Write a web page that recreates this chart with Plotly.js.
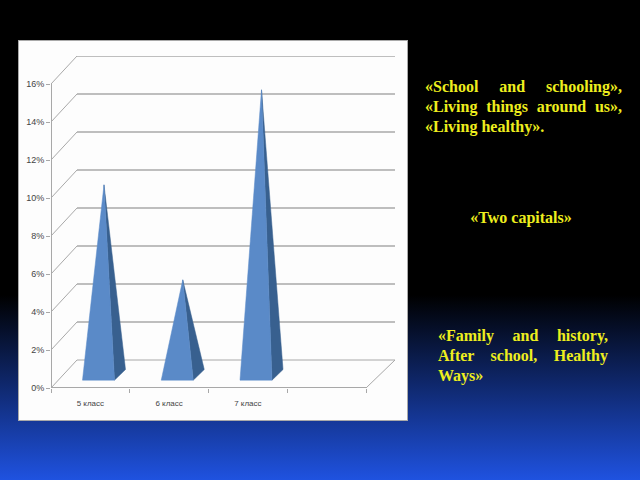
<!DOCTYPE html>
<html>
<head>
<meta charset="utf-8">
<script src="https://cdn.plot.ly/plotly-3.0.1.min.js"></script>
<style>
html,body{margin:0;padding:0;width:640px;height:480px;overflow:hidden;}
body{position:relative;background:linear-gradient(to bottom,#000 0,#000 295px,#1f52e0 480px);}
#panel{position:absolute;left:18px;top:40px;width:388px;height:379px;background:#fdfdfd;border:1px solid #a9a9a9;}
#chart{position:absolute;left:0;top:0;width:640px;height:480px;}
.note{position:absolute;color:#eeee1e;font:bold 16px/20px "Liberation Serif",serif;text-align:justify;}
</style>
</head>
<body>
<div id="panel"></div>
<div id="chart"></div>
<div class="note" style="left:425px;top:77px;width:197px;" id="n1"></div>
<div class="note" style="left:425px;top:208px;width:192px;text-align:center;" id="n2"></div>
<div class="note" style="left:438px;top:326px;width:170px;" id="n3"></div>
<script>
var categories = ["5 класс", "6 класс", "7 класс", ""];
var values = [10, 5, 15];
var yTickValues = [0, 2, 4, 6, 8, 10, 12, 14, 16];
var yTickLabels = ["0%", "2%", "4%", "6%", "8%", "10%", "12%", "14%", "16%"];
var note1 = "«School and schooling», «Living things around us», «Living healthy».";
var note2 = "«Two capitals»";
var note3 = "«Family and history, After school, Healthy Ways»";

document.getElementById("n1").textContent = note1;
document.getElementById("n2").textContent = note2;
document.getElementById("n3").textContent = note3;

// pseudo-3D projection (depth offsets in axis units)
var depthX = 29 / 78.75, depthXLeft = 26 / 78.75, depthY = 28 / 19;
var gridColor = "#a8a8a8";
var baseFront = 0.28, baseBack = 0.66; // depth fractions occupied by the bar
var halfWidth = 16 / 78.75;

function line(xs, ys, w) {
  return {type: "scatter", mode: "lines", x: xs, y: ys, showlegend: false,
          hoverinfo: "skip", line: {color: gridColor, width: w}};
}
function face(xs, ys, color) {
  return {type: "scatter", mode: "lines", x: xs, y: ys, showlegend: false,
          hoverinfo: "skip", fill: "toself", fillcolor: color, line: {color: color, width: 0.5}};
}

var traces = [];
var n = categories.length;
var yMax = yTickValues[yTickValues.length - 1];
yTickValues.forEach(function (v) {
  traces.push(line([0, depthXLeft], [v, v + depthY], 1));
  traces.push(line([depthXLeft, n + depthX], [v + depthY, v + depthY], v === 0 ? 1 : 1.6));
});
traces.push(line([n, n + depthX], [0, depthY], 1));
traces.push(line([0, 0], [0, yMax], 2));   // vertical axis line
traces.push(line([0, n], [0, 0], 2));      // floor front edge

values.forEach(function (v, i) {
  var c = i + 0.5 + baseFront * depthX;
  var front = baseFront * depthY;
  var dx = (baseBack - baseFront) * depthX;
  var dy = (baseBack - baseFront) * depthY;
  var apexX = c + dx / 2, apexY = front + dy / 2 + v;
  traces.push(face([c + halfWidth, c + halfWidth + dx, apexX, c + halfWidth],
                   [front, front + dy, apexY, front], "#38608f"));
  traces.push(face([c - halfWidth, c + halfWidth, apexX, c - halfWidth],
                   [front, front, apexY, front], "#5a8ac8"));
});

var layout = {
  width: 640, height: 480,
  margin: {l: 51, r: 245, t: 56, b: 92, pad: 0},
  paper_bgcolor: "rgba(0,0,0,0)", plot_bgcolor: "rgba(0,0,0,0)",
  showlegend: false,
  font: {family: "Liberation Sans, sans-serif", size: 8, color: "#444"},
  xaxis: {
    range: [0, n + depthX], showgrid: false, zeroline: false, showline: false,
    tickmode: "array", tickvals: categories.map(function (c, i) { return i + 0.5; }), ticktext: categories,
    ticks: "", ticklabelstandoff: 9,
    minor: {tickmode: "linear", tick0: 0, dtick: 1, ticks: "outside", ticklen: 4, tickcolor: gridColor, showgrid: false}
  },
  yaxis: {
    range: [0, yMax + depthY], showgrid: false, zeroline: false, showline: false,
    tickmode: "array", tickvals: yTickValues, ticktext: yTickLabels,
    ticks: "outside", ticklen: 4, tickcolor: gridColor, tickfont: {size: 9, color: "#444"}
  }
};
Plotly.newPlot("chart", traces, layout, {displayModeBar: false, staticPlot: true});
</script>
</body>
</html>
